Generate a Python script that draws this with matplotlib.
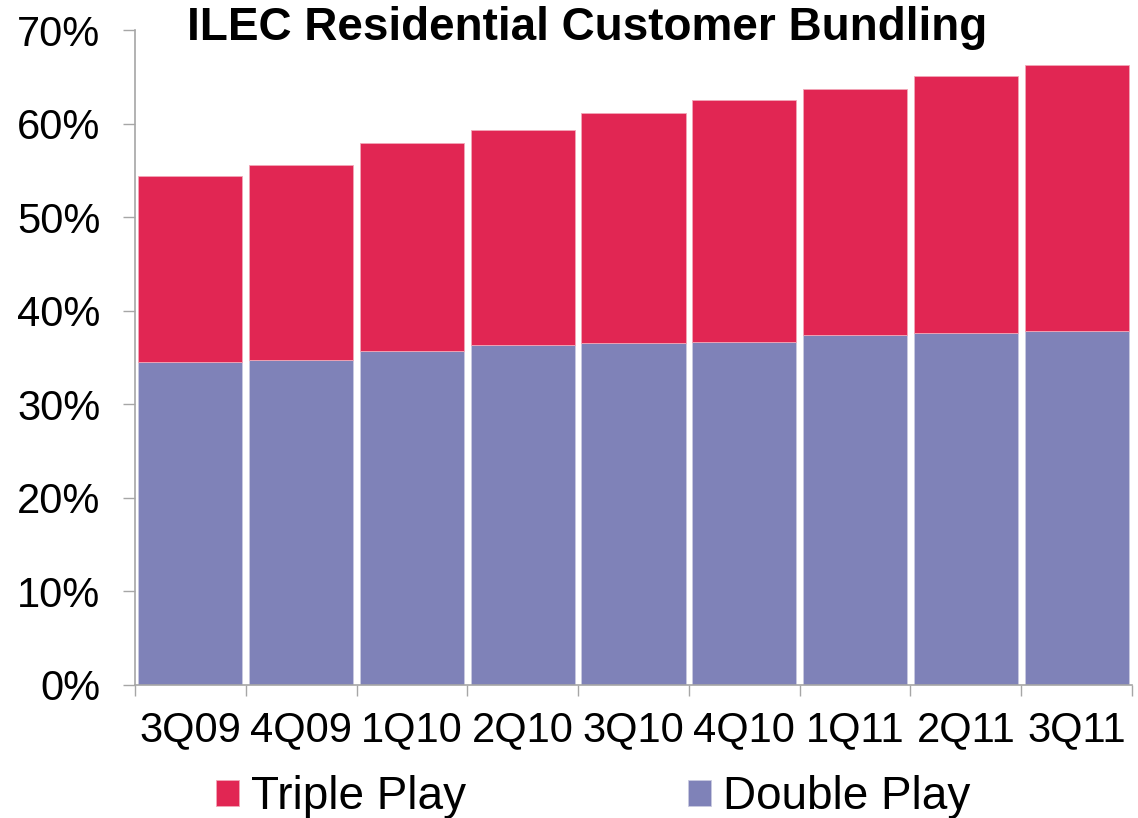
import matplotlib
matplotlib.use("Agg")
import matplotlib.pyplot as plt
import numpy as np
from matplotlib.patches import Patch
from matplotlib.ticker import FixedLocator, PercentFormatter

plt.rcParams['font.family'] = ['Liberation Sans', 'DejaVu Sans']

quarters = ["3Q09", "4Q09", "1Q10", "2Q10", "3Q10", "4Q10", "1Q11", "2Q11", "3Q11"]
double_play = [34.5, 34.7, 35.7, 36.3, 36.5, 36.7, 37.4, 37.6, 37.8]
triple_play = [19.9, 20.9, 22.2, 23.0, 24.6, 25.8, 26.3, 27.5, 28.5]

red = "#E12653"
purple = "#7F82B8"
grey = "#A6A6A6"

fig = plt.figure(figsize=(11.38, 8.18), dpi=100)
ax = fig.add_axes([135/1138, 1-685/818, (1132-135)/1138, (685-30)/818])

x = np.arange(len(quarters))
w = 0.94
ax.bar(x, double_play, width=w, color=purple, edgecolor="#C9CAE0", linewidth=0.6)
ax.bar(x, triple_play, width=w, bottom=double_play, color=red, edgecolor="#F2A7B8", linewidth=0.6)

ax.set_xlim(-0.5, len(quarters) - 0.5)
ax.set_ylim(0, 70)
ax.yaxis.set_major_locator(FixedLocator(np.arange(0, 71, 10)))
ax.yaxis.set_major_formatter(PercentFormatter(decimals=0))

ax.set_xticks(x)
ax.set_xticklabels(quarters)
ax.xaxis.set_minor_locator(FixedLocator(np.arange(-0.5, len(quarters), 1.0)))
ax.tick_params(axis='x', which='major', length=0, pad=18, labelsize=30)
ax.tick_params(axis='x', which='minor', length=8, width=1, color=grey, direction='out')
ax.tick_params(axis='y', which='major', length=9, width=1, color=grey, direction='out', pad=16, labelsize=30)

for s in ['top', 'right']:
    ax.spines[s].set_visible(False)
for s in ['left', 'bottom']:
    ax.spines[s].set_color(grey)
    ax.spines[s].set_linewidth(1.2)

fig.text(587/1138, 1-28/818, "ILEC Residential Customer Bundling", ha='center', va='center',
         fontsize=33, fontweight='bold')

handles = [Patch(facecolor=red, edgecolor="#F2A7B8", linewidth=0.6, label="Triple Play"),
           Patch(facecolor=purple, edgecolor="#C9CAE0", linewidth=0.6, label="Double Play")]
fig.legend(handles=handles, loc='center', bbox_to_anchor=(593/1138, 1-797/818), ncol=2,
           frameon=False, fontsize=33, handlelength=0.5, handleheight=0.5,
           handletextpad=0.26, columnspacing=4.85, borderpad=0)

fig.savefig("out.png", dpi=100)
